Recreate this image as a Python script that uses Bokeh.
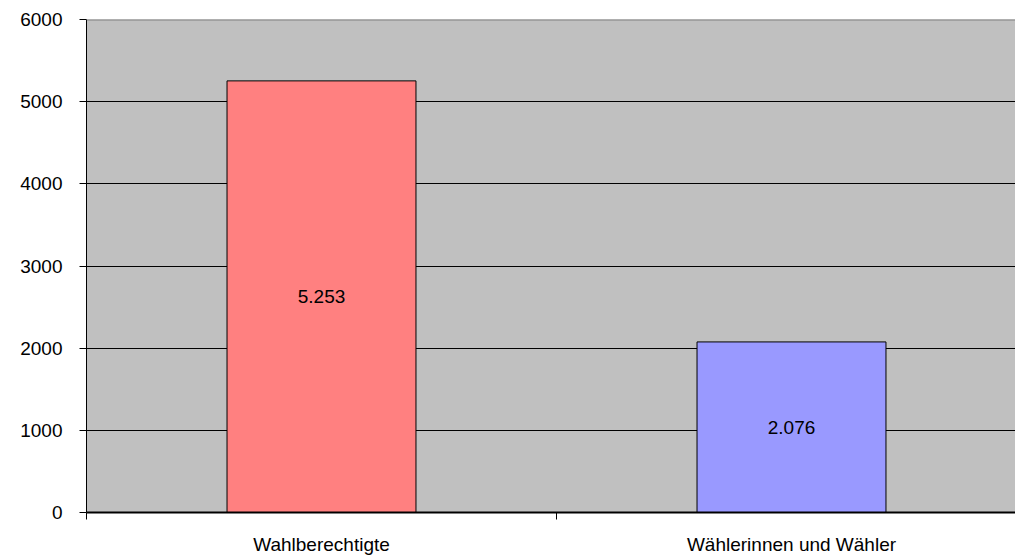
from bokeh.plotting import figure
from bokeh.models import (ColumnDataSource, Range1d, FixedTicker, SingleIntervalTicker,
                          LinearAxis, Span, Grid)
from bokeh.core.properties import value
from bokeh.embed import file_html
from bokeh.resources import INLINE

# ---- data ----
categories = ["Wahlberechtigte", "Wählerinnen und Wähler"]
counts = [5253, 2076]
bar_colors = ["#FF8080", "#9999FF"]
y_max = 6000
y_step = 1000

centers = [i + 0.5 for i in range(len(categories))]
labels = [f"{v:,}".replace(",", ".") for v in counts]
src = ColumnDataSource(dict(
    x=centers, top=counts, color=bar_colors, label=labels,
    mid=[v / 2 for v in counts],
))

FONT = "Liberation Sans"
FS = "19px"

p = figure(width=1015, height=559, output_backend="svg", toolbar_location=None,
           x_range=Range1d(0, 929 / 470), y_range=Range1d(0, y_max),
           x_axis_type=None, y_axis_type=None,
           min_border_left=86, min_border_right=0, min_border_top=19,
           min_border_bottom=47)
p.background_fill_color = "#C0C0C0"
p.border_fill_color = "white"
p.outline_line_color = None

# y axis
yaxis = LinearAxis(ticker=SingleIntervalTicker(interval=y_step))
yaxis.axis_line_color = "black"
yaxis.axis_line_width = 1
yaxis.major_tick_in = 0
yaxis.major_tick_out = 7
yaxis.major_tick_line_color = "black"
yaxis.minor_tick_line_color = None
yaxis.major_label_standoff = 17
yaxis.major_label_text_font = FONT
yaxis.major_label_text_font_size = FS
yaxis.major_label_text_color = "black"
p.add_layout(yaxis, "left")

# x axis
xaxis = LinearAxis(ticker=FixedTicker(ticks=centers,
                                      minor_ticks=[float(i) for i in range(len(categories) + 1)]))
xaxis.major_label_overrides = {c: name for c, name in zip(centers, categories)}
xaxis.axis_line_color = "black"
xaxis.axis_line_width = 2
xaxis.major_tick_in = 0
xaxis.major_tick_out = 0
xaxis.minor_tick_in = 0
xaxis.minor_tick_out = 7
xaxis.minor_tick_line_color = "black"
xaxis.major_label_standoff = 14
xaxis.major_label_text_font = FONT
xaxis.major_label_text_font_size = FS
xaxis.major_label_text_color = "black"
p.add_layout(xaxis, "below")

# grid
p.add_layout(Grid(dimension=1, ticker=SingleIntervalTicker(interval=y_step),
                  grid_line_color="black", grid_line_width=1))

p.add_layout(Span(location=y_max, dimension="width", line_color="#808080", line_width=2))

p.vbar(x="x", top="top", width=0.402, bottom=0, source=src,
       fill_color="color", line_color="black", line_width=1)

p.text(x="x", y="mid", text="label", source=src, text_align="center",
       text_baseline="middle", text_font=value(FONT), text_font_size=FS,
       text_color="black")

open("out.html", "w").write(file_html(p, INLINE))
